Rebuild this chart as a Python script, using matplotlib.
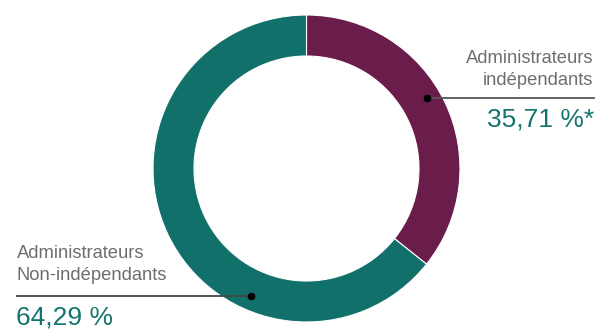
import matplotlib.pyplot as plt

# data
labels = ['Administrateurs\nindépendants', 'Administrateurs\nNon-indépendants']
shares = [35.71, 64.29]
value_text = ['35,71 %*', '64,29 %']
colors = ['#6a1d4a', '#11706a']

W, H = 598, 329
plt.rcParams['font.family'] = ['Liberation Sans', 'DejaVu Sans']

fig = plt.figure(figsize=(W / 100, H / 100), dpi=100)
ax = fig.add_axes([0, 0, 1, 1])
ax.set_xlim(0, W)
ax.set_ylim(0, H)
ax.set_aspect('equal')
ax.axis('off')

cx, cy, R = 306.5, H - 168.5, 153.5
ax.pie(shares, colors=colors, startangle=90, counterclock=False,
       center=(cx, cy), radius=R, frame=True,
       wedgeprops=dict(width=41, edgecolor='white', linewidth=0.8))
ax.set_xlim(0, W)
ax.set_ylim(0, H)
ax.axis('off')

gray = '#6e6e6e'
teal = '#13756d'

# right label (independent)
ax.text(593, H - 63, 'Administrateurs', ha='right', va='baseline', fontsize=13.2, color=gray)
ax.text(593, H - 85, 'indépendants', ha='right', va='baseline', fontsize=13.2, color=gray)
ax.plot([427, 594], [H - 98, H - 98], color='#555555', lw=1.3)
ax.plot(427, H - 98, 'o', color='black', ms=4.5)
ax.text(594, H - 127, value_text[0], ha='right', va='baseline', fontsize=19, color=teal)

# left label (non-independent)
ax.text(17, H - 258, 'Administrateurs', ha='left', va='baseline', fontsize=13.2, color=gray)
ax.text(17, H - 280, 'Non-indépendants', ha='left', va='baseline', fontsize=13.2, color=gray)
ax.plot([17, 251], [H - 296, H - 296], color='#444444', lw=1.3)
ax.plot(251, H - 296, 'o', color='black', ms=4.5)
ax.text(16, H - 325, value_text[1], ha='left', va='baseline', fontsize=19, color=teal)

fig.savefig('out.png', dpi=100)
